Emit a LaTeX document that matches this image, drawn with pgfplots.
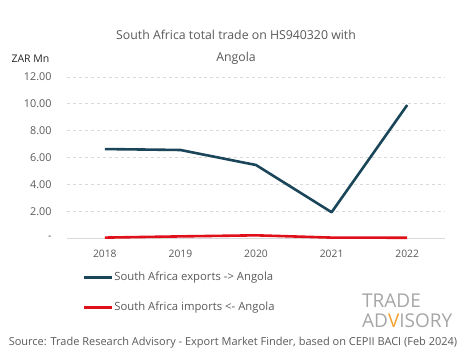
\documentclass[border=0pt]{standalone}
\usepackage{pgfplots}
\pgfplotsset{compat=1.18}
\usepackage{fontspec}
\setmainfont{Open Sans}
\definecolor{expc}{HTML}{1B4558}
\definecolor{impc}{HTML}{E0101A}
\definecolor{txt}{HTML}{595959}
\definecolor{gridc}{HTML}{D9D9D9}
\definecolor{logoc}{HTML}{A6A6A6}
\definecolor{orng}{HTML}{F2A030}
\begin{document}
\begin{tikzpicture}[x=1bp,y=1bp]
\path[use as bounding box] (0,0) rectangle (465,359);
\begin{axis}[
  at={(67bp,121bp)}, anchor=south west, scale only axis,
  width=378bp, height=161bp,
  xmin=-0.5, xmax=4.5, ymin=0, ymax=12,
  xtick={0,1,2,3,4}, xticklabels={2018,2019,2020,2021,2022},
  ytick={2,4,6,8,10,12},
  extra y ticks={0}, extra y tick labels={-},
  extra y tick style={ymajorgrids=true, major grid style={solid, gridc, line width=0.8bp}},
  axis line style={draw=none},
  major tick length=0,
  ymajorgrids, grid style={dashed, gridc, line width=0.7bp},
  /pgf/number format/assume math mode=true,
  yticklabel style={/pgf/number format/fixed, /pgf/number format/fixed zerofill, /pgf/number format/precision=2, xshift=-12bp, font=\fontsize{10.8bp}{12bp}\selectfont},
  ticklabel style={text=txt},
  xticklabel style={yshift=-9bp, font=\fontsize{10.3bp}{12bp}\selectfont},
  legend style={at={(0.04,-0.205)}, anchor=north west, draw=none, fill=none,
    font=\fontsize{11.3bp}{13bp}\selectfont, text=txt, row sep=18bp, inner sep=0pt,
    nodes={inner sep=1bp}},
  legend cell align=left,
  legend image code/.code={\draw[#1, line width=3bp] (0bp,0bp) -- (28bp,0bp);},
  clip=false,
]
\addplot[expc, line width=2.6bp, line join=round] coordinates {(0,6.63) (1,6.56) (2,5.44) (3,1.92) (4,9.91)};
\addlegendentry{South Africa exports -> Angola}
\addplot[impc, line width=2.6bp, line join=round] coordinates {(0,0.03) (1,0.12) (2,0.2) (3,0.03) (4,0.02)};
\addlegendentry{South Africa imports <- Angola}
\end{axis}
\node[text=txt, font=\fontsize{12.3bp}{14bp}\selectfont] at (236,324) {South Africa total trade on HS940320 with};
\node[text=txt, font=\fontsize{12.3bp}{14bp}\selectfont] at (236,301) {Angola};
\node[anchor=west, text=black!85, font=\fontsize{10.5bp}{12bp}\selectfont] at (8,300) {ZAR Mn};
\node[anchor=west, text=logoc, font=\fontsize{19bp}{20bp}\selectfont, inner sep=0pt] at (362,58) {TRADE};
\node[anchor=west, text=logoc, font=\fontsize{19bp}{20bp}\selectfont, inner sep=0pt] at (362,38.5) {AD{\color{orng}V}ISORY};
\node[text=txt, font=\fontsize{11bp}{12bp}\selectfont] at (233,16) {Source: Trade Research Advisory - Export Market Finder, based on CEPII BACI (Feb 2024)};
\end{tikzpicture}
\end{document}
